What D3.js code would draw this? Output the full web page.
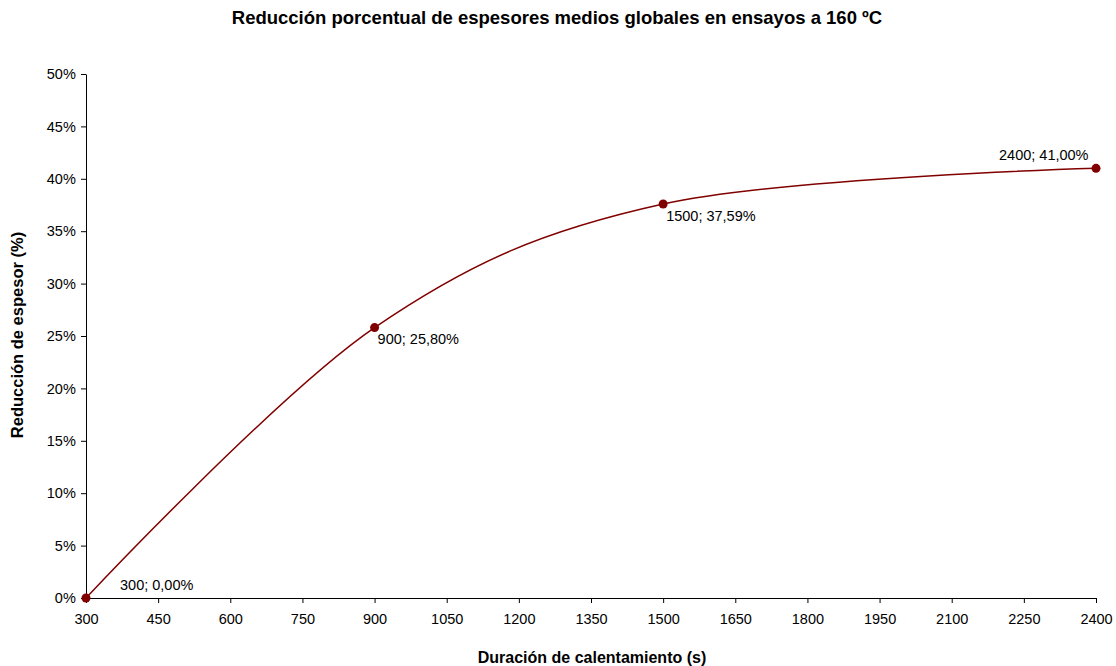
<!DOCTYPE html>
<html><head><meta charset="utf-8">
<script src="https://cdn.jsdelivr.net/npm/d3@7"></script>
<style>body{margin:0;background:#fff}svg{font-family:"Liberation Sans",Arial,sans-serif}</style>
</head><body><svg id="c" width="1116" height="666"></svg>
<script>
const durations = [300, 900, 1500, 2400];
const reductions = [0.0, 25.80, 37.59, 41.00];
const pointLabels = ["300; 0,00%", "900; 25,80%", "1500; 37,59%", "2400; 41,00%"];
const xTicks = [300,450,600,750,900,1050,1200,1350,1500,1650,1800,1950,2100,2250,2400];
const yTicks = [0,5,10,15,20,25,30,35,40,45,50];
const labelOffsets = [[34,-8],[3,16],[3,17],[-97,-8]];

const svg = d3.select("#c");
const x = d3.scaleLinear().domain([300,2400]).range([86,1096]);
const y = d3.scaleLinear().domain([0,50]).range([598,74]);
const color = "#800000";

svg.append("text").attr("x",557).attr("y",24).attr("text-anchor","middle")
  .attr("font-size",18.5).attr("font-weight","bold").text("Reducción porcentual de espesores medios globales en ensayos a 160 ºC");

const xa = svg.append("g").attr("transform","translate(0,598)")
  .call(d3.axisBottom(x).tickValues(xTicks).tickSize(5).tickSizeOuter(0).tickFormat(d3.format("d")));
const ya = svg.append("g").attr("transform","translate(86,0)")
  .call(d3.axisLeft(y).tickValues(yTicks).tickSize(5).tickSizeOuter(0).tickFormat(d=>d+"%"));
[xa,ya].forEach(a=>{
  a.selectAll("path,line").attr("stroke","#000");
  a.selectAll("text").attr("font-size",14.5).attr("fill","#000").attr("font-family","Liberation Sans, Arial, sans-serif");
});
xa.selectAll("text").attr("dy","1.25em");
ya.selectAll("text").attr("dx","-0.15em");

svg.append("text").attr("x",592).attr("y",663).attr("text-anchor","middle")
  .attr("font-size",16).attr("font-weight","bold").text("Duración de calentamiento (s)");
svg.append("text").attr("transform","translate(23,335) rotate(-90)").attr("text-anchor","middle")
  .attr("font-size",16.5).attr("font-weight","bold").text("Reducción de espesor (%)");

const data = durations.map((d,i)=>({x:d,y:reductions[i],l:pointLabels[i],o:labelOffsets[i]}));
svg.append("path").datum(data).attr("fill","none").attr("stroke",color).attr("stroke-width",1.5)
  .attr("d", d3.line().x(d=>x(d.x)).y(d=>y(d.y)).curve(d3.curveCatmullRom.alpha(0)));
svg.selectAll("circle").data(data).enter().append("circle")
  .attr("cx",d=>x(d.x)).attr("cy",d=>y(d.y)).attr("r",4.5).attr("fill",color);
svg.selectAll("text.lbl").data(data).enter().append("text").attr("class","lbl")
  .attr("x",d=>x(d.x)+d.o[0]).attr("y",d=>y(d.y)+d.o[1]).attr("font-size",14.5).text(d=>d.l);
</script></body></html>
